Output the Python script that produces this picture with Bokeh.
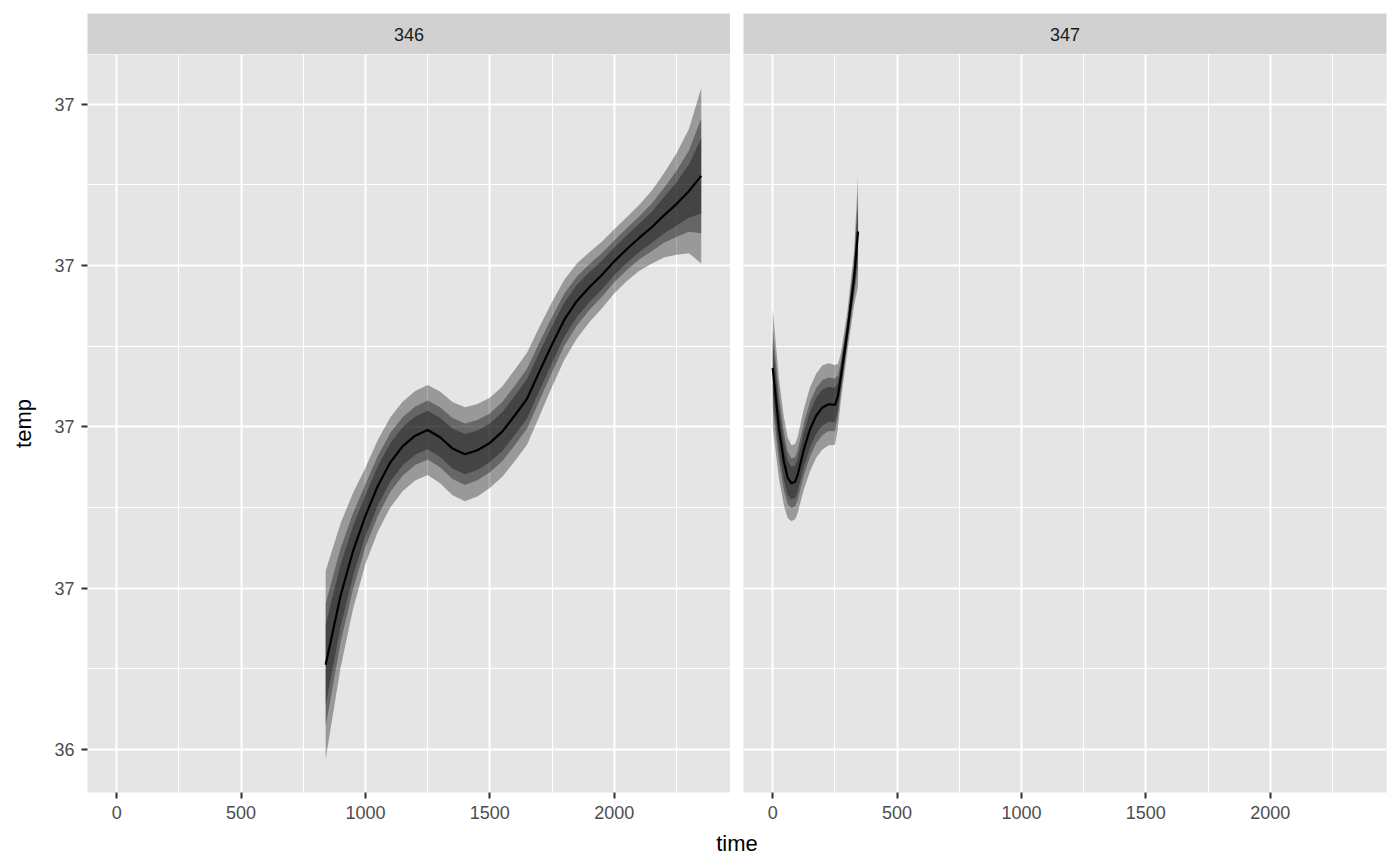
from bokeh.plotting import figure
from bokeh.layouts import column, row
from bokeh.models import Range1d, FixedTicker, Grid, PrintfTickFormatter, ColumnDataSource
from bokeh.embed import file_html
from bokeh.resources import INLINE
from bokeh.core.properties import value

# ---------------- data ----------------
panels = ["346", "347"]

time_346 = [840, 900, 950, 1000, 1050, 1100, 1150, 1200, 1250, 1300, 1350, 1400, 1450, 1500,
            1550, 1600, 1650, 1700, 1750, 1800, 1850, 1900, 1950, 2000, 2050, 2100, 2150,
            2200, 2250, 2300, 2350]
temp_346 = [36.505, 36.591, 36.646, 36.690, 36.727, 36.756, 36.776, 36.789, 36.796, 36.787,
            36.773, 36.766, 36.771, 36.780, 36.794, 36.814, 36.835, 36.869, 36.902, 36.933,
            36.956, 36.973, 36.988, 37.005, 37.020, 37.034, 37.047, 37.062, 37.076, 37.092,
            37.111]
se_346 = [0.0595, 0.0456, 0.0367, 0.0304, 0.0290, 0.0285, 0.0283, 0.0283, 0.0285, 0.0290,
          0.0295, 0.0297, 0.0292, 0.0285, 0.0286, 0.0289, 0.0291, 0.0282, 0.0268, 0.0253,
          0.0237, 0.0221, 0.0211, 0.0203, 0.0203, 0.0209, 0.0230, 0.0266, 0.0320, 0.0392,
          0.0555]

time_347 = [0, 25, 45, 60, 75, 90, 100, 125, 150, 175, 200, 225, 250, 262, 273, 300, 327, 343]
temp_347 = [36.873, 36.798, 36.757, 36.737, 36.730, 36.732, 36.740, 36.772, 36.797, 36.814,
            36.824, 36.828, 36.827, 36.838, 36.860, 36.918, 36.984, 37.042]
se_347 = [0.0373, 0.0316, 0.0278, 0.0255, 0.0240, 0.0238, 0.0240, 0.0253, 0.0266, 0.0266,
          0.0266, 0.0259, 0.0253, 0.0203, 0.0152, 0.0127, 0.0171, 0.0348]

interval_z = [1.96, 1.28, 0.84]   # nested interval bands (95 %, 80 %, 60 %)

x_ticks = [0, 500, 1000, 1500, 2000]
x_minor = [250, 750, 1250, 1750, 2250]
y_ticks = [36.4, 36.6, 36.8, 37.0, 37.2]
y_minor = [36.5, 36.7, 36.9, 37.1]

series = {
    "346": (time_346, temp_346, se_346),
    "347": (time_347, temp_347, se_347),
}

# ---------------- style ----------------
FONT = "Liberation Sans"
PANEL_BG = "#e5e5e5"
STRIP_BG = "#d1d1d1"
TICK_COLOR = "#333333"
LABEL_COLOR = "#4d4d4d"

# shared scales (ggplot-style 5 % expansion of the data)
all_t = time_346 + time_347
x_lo, x_hi = min(all_t), max(all_t)
x_pad = 0.05 * (x_hi - x_lo)
xr = Range1d(x_lo - x_pad, x_hi + x_pad)

zmax = max(interval_z)
lows = [m - zmax * s for m, s in zip(temp_346 + temp_347, se_346 + se_347)]
highs = [m + zmax * s for m, s in zip(temp_346 + temp_347, se_346 + se_347)]
y_lo, y_hi = min(lows), max(highs)
y_pad = 0.05 * (y_hi - y_lo)
yr = Range1d(y_lo - y_pad, y_hi + y_pad)

STRIP_H = 54
MAIN_H = 772
TIME_H = 36


def style_axis(ax):
    ax.axis_line_color = None
    ax.major_tick_out = 6
    ax.major_tick_in = 0
    ax.major_tick_line_color = TICK_COLOR
    ax.major_tick_line_width = 2
    ax.minor_tick_line_color = None
    ax.major_label_text_font = FONT
    ax.major_label_text_font_size = "18px"
    ax.major_label_text_color = LABEL_COLOR
    ax.major_label_standoff = 7


def make_panel(name, left):
    t, temp, se = series[name]
    mbl = 87 if left else 13
    mbr = 0 if left else 6
    w = 643 + mbl + mbr

    strip = figure(width=w, height=STRIP_H, x_range=xr, y_range=Range1d(0, 1),
                   x_axis_location=None, y_axis_location=None,
                   min_border_left=mbl, min_border_right=mbr, min_border_top=13,
                   min_border_bottom=0, background_fill_color=STRIP_BG,
                   border_fill_color="white", outline_line_color=None,
                   output_backend="svg", toolbar_location=None)
    strip.center = []
    strip.text(x=[(xr.start + xr.end) / 2], y=[0.5], text=[name], text_align="center",
               text_baseline="middle", text_font=value(FONT), text_font_size="18px",
               text_color="#1a1a1a")

    main = figure(width=w, height=MAIN_H, x_range=xr, y_range=yr,
                  x_axis_location="below", y_axis_location="left" if left else None,
                  min_border_left=mbl, min_border_right=mbr, min_border_top=0,
                  min_border_bottom=34, background_fill_color=PANEL_BG,
                  border_fill_color="white", outline_line_color=None,
                  output_backend="svg", toolbar_location=None)
    main.center = []
    main.add_layout(Grid(dimension=0, ticker=FixedTicker(ticks=x_ticks, minor_ticks=x_minor),
                         grid_line_color="white", grid_line_width=2,
                         minor_grid_line_color="white", minor_grid_line_width=1))
    main.add_layout(Grid(dimension=1, ticker=FixedTicker(ticks=y_ticks, minor_ticks=y_minor),
                         grid_line_color="white", grid_line_width=2,
                         minor_grid_line_color="white", minor_grid_line_width=1))

    xa = main.xaxis[0]
    xa.ticker = FixedTicker(ticks=x_ticks, minor_ticks=[])
    style_axis(xa)
    if left:
        ya = main.yaxis[0]
        ya.ticker = FixedTicker(ticks=y_ticks, minor_ticks=[])
        ya.formatter = PrintfTickFormatter(format="%.0f")
        style_axis(ya)
        ya.axis_label = "temp"
        ya.axis_label_text_font = FONT
        ya.axis_label_text_font_size = "22px"
        ya.axis_label_text_font_style = "normal"
        ya.axis_label_text_color = "black"
        ya.axis_label_standoff = 15

    data = {"t": t, "m": temp}
    for i, z in enumerate(interval_z):
        data[f"lo{i}"] = [m - z * s for m, s in zip(temp, se)]
        data[f"hi{i}"] = [m + z * s for m, s in zip(temp, se)]
    src = ColumnDataSource(data)
    for i in range(len(interval_z)):
        main.varea(x="t", y1=f"lo{i}", y2=f"hi{i}", source=src,
                   fill_color="black", fill_alpha=0.33)
    main.line(x="t", y="m", source=src, line_color="black", line_width=2.2)

    return column(strip, main)


left_col = make_panel(panels[0], True)
right_col = make_panel(panels[1], False)

time_fig = figure(width=1392, height=TIME_H, x_range=Range1d(0, 1), y_range=Range1d(0, TIME_H),
                  x_axis_location=None, y_axis_location=None,
                  min_border_left=87, min_border_right=6, min_border_top=0, min_border_bottom=0,
                  background_fill_color="white", border_fill_color="white",
                  outline_line_color=None, output_backend="svg", toolbar_location=None)
time_fig.center = []
time_fig.text(x=[0.5], y=[19], text=["time"], text_align="center", text_baseline="middle",
              text_font=value(FONT), text_font_size="22px", text_color="black")

p = column(row(left_col, right_col), time_fig)

open("out.html", "w").write(file_html(p, INLINE))
